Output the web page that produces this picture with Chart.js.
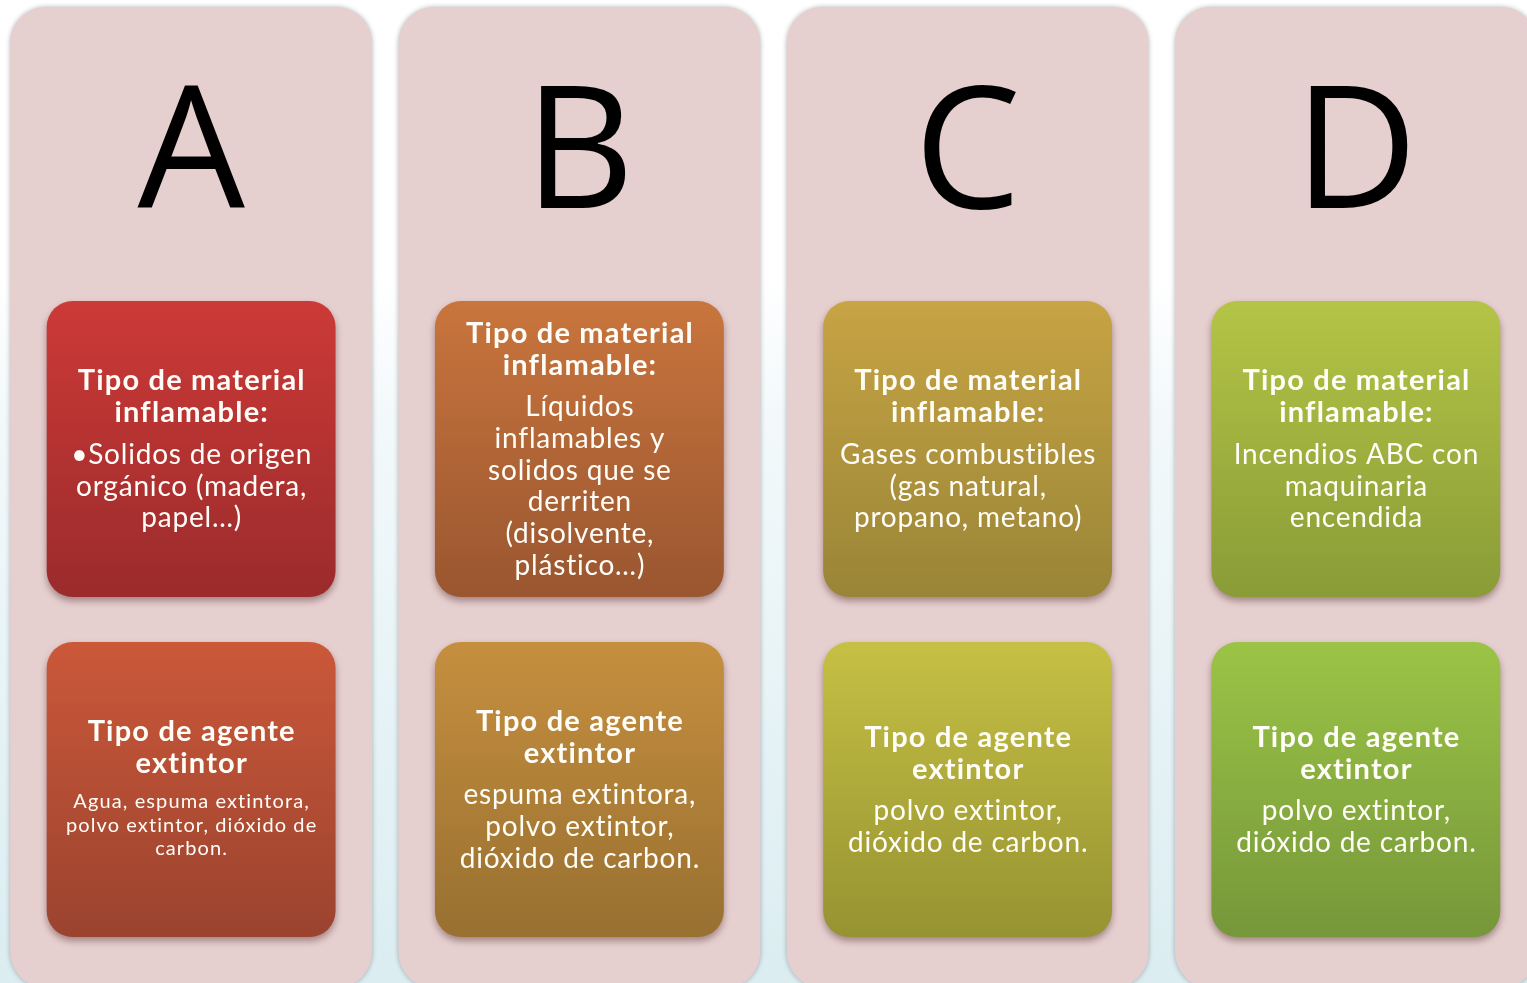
<!DOCTYPE html>
<html lang="es">
<head>
<meta charset="utf-8">
<title>Clases de fuego</title>
<script src="https://cdn.jsdelivr.net/npm/chart.js@4.4.1/dist/chart.umd.min.js"></script>
<style>
  html, body {
    margin: 0;
    width: 1527px;
    height: 983px;
    overflow: hidden;
    background: linear-gradient(to bottom, #ffffff 0%, #ffffff 28%, #f3f9fb 42%, #dbedf1 100%);
  }
  #marco {
    position: absolute;
    left: -3px;
    top: 0;
    width: 1553px;
    height: 983px;
  }
</style>
</head>
<body>
<div id="marco"><canvas id="grafico"></canvas></div>
<script>
// Datos del diagrama
const clases = ['A', 'B', 'C', 'D'];

// extensión vertical de cada columna y de cada caja (de arriba hacia abajo)
const columnaRango = [[7, 988], [7, 988], [7, 988], [7, 988]];
const materialRango = [[301, 597], [301, 597], [301, 597], [301, 597]];
const agenteRango = [[642, 937], [642, 937], [642, 937], [642, 937]];

const tituloMaterial = ['Tipo de material', 'inflamable:'];
const tituloAgente = ['Tipo de agente', 'extintor'];

const textoMaterial = [
    ['\u2022Solidos de origen', 'orgánico (madera,', 'papel…)'],
    ['Líquidos', 'inflamables y', 'solidos que se', 'derriten', '(disolvente,', 'plástico…)'],
    ['Gases combustibles', '(gas natural,', 'propano, metano)'],
    ['Incendios ABC con', 'maquinaria', 'encendida']
];
const textoAgente = [
    ['Agua, espuma extintora,', 'polvo extintor, dióxido de', 'carbon.'],
    ['espuma extintora,', 'polvo extintor,', 'dióxido de carbon.'],
    ['polvo extintor,', 'dióxido de carbon.'],
    ['polvo extintor,', 'dióxido de carbon.']
];

// colores (arriba, abajo) de cada caja
const coloresMaterial = [
    ['#cc3a37', '#9b2b2c'],
    ['#c9753d', '#9a5630'],
    ['#c7a444', '#998537'],
    ['#b4c446', '#899c37']
];
const coloresAgente = [
    ['#cb5839', '#9b432f'],
    ['#c68f3f', '#987030'],
    ['#c6c044', '#969332'],
    ['#9bc446', '#76973a']
];

// Degradado vertical para cada caja
function degradado(colores) {
    return function(ctx) {
        if (ctx.type !== 'data') return colores[0][0];
        let par = colores[ctx.dataIndex];
        let chart = ctx.chart;
        if (!chart.chartArea || !ctx.raw) return par[0];
        let y = chart.scales.y;
        let g = chart.ctx.createLinearGradient(0, y.getPixelForValue(ctx.raw[0]), 0, y.getPixelForValue(ctx.raw[1]));
        g.addColorStop(0, par[0]);
        g.addColorStop(1, par[1]);
        return g;
    };
}

// Sombras de columnas y cajas
const sombras = {
    id: 'sombras',
    beforeDatasetDraw(chart, args) {
        let c = chart.ctx;
        c.save();
        if (args.meta.label === 'columna') {
            c.shadowColor = 'rgba(0, 0, 0, 0.30)';
            c.shadowBlur = 5;
            c.shadowOffsetX = 0;
            c.shadowOffsetY = 0;
        } else {
            c.shadowColor = 'rgba(60, 20, 20, 0.40)';
            c.shadowBlur = 7;
            c.shadowOffsetX = 0;
            c.shadowOffsetY = 4;
        }
    },
    afterDatasetDraw(chart) {
        chart.ctx.restore();
    }
};

// Letras y textos de las cajas
function bloque(c, x, yMedio, titulo, cuerpo, pequeno) {
    let altoTitulo = 32;
    let altoCuerpo = pequeno ? 23.5 : 31.7;
    let salto = pequeno ? 38 : 42;
    let span = altoTitulo * (titulo.length - 1) + salto + altoCuerpo * (cuerpo.length - 1);
    let y = yMedio - span / 2;
    c.font = 'bold 29px Lato';
    c.letterSpacing = '1.2px';
    titulo.forEach((linea, i) => {
        c.fillText(linea, x + 0.6, y + i * altoTitulo + 10);
    });
    y += altoTitulo * (titulo.length - 1) + salto;
    c.font = pequeno ? '20px Lato' : '28px Lato';
    c.letterSpacing = pequeno ? '1.1px' : '0.8px';
    cuerpo.forEach((linea, i) => {
        c.fillText(linea, x + 0.5, y + i * altoCuerpo + (pequeno ? 7 : 9.5));
    });
    c.letterSpacing = '0px';
}

const textos = {
    id: 'textos',
    afterDatasetsDraw(chart) {
        let c = chart.ctx;
        let xs = chart.scales.x;
        let ys = chart.scales.y;
        c.save();
        c.textAlign = 'center';
        c.textBaseline = 'alphabetic';
        clases.forEach((letra, i) => {
            let x = xs.getPixelForValue(i);
            c.fillStyle = '#000000';
            c.font = '170px "Open Sans"';
            c.fillText(letra, x, ys.getPixelForValue(208));

            c.fillStyle = '#fffdf8';
            let m = materialRango[i];
            bloque(c, x, ys.getPixelForValue((m[0] + m[1]) / 2), tituloMaterial, textoMaterial[i], false);
            let a = agenteRango[i];
            bloque(c, x, ys.getPixelForValue((a[0] + a[1]) / 2), tituloAgente, textoAgente[i], i === 0);
        });
        c.restore();
    }
};

let ctx = document.getElementById('grafico').getContext('2d');
let diagrama = new Chart(ctx, {
    type: 'bar',
    data: {
        labels: clases,
        datasets: [
            {
                label: 'material',
                data: materialRango,
                backgroundColor: degradado(coloresMaterial),
                borderRadius: 26,
                borderSkipped: false,
                borderWidth: 0,
                grouped: false,
                barPercentage: 0.744,
                categoryPercentage: 1,
                order: 1
            },
            {
                label: 'agente',
                data: agenteRango,
                backgroundColor: degradado(coloresAgente),
                borderRadius: 26,
                borderSkipped: false,
                borderWidth: 0,
                grouped: false,
                barPercentage: 0.744,
                categoryPercentage: 1,
                order: 2
            },
            {
                label: 'columna',
                data: columnaRango,
                backgroundColor: '#e6cfcf',
                borderRadius: 36,
                borderSkipped: false,
                borderWidth: 0,
                grouped: false,
                barPercentage: 0.932,
                categoryPercentage: 1,
                order: 3
            }
        ]
    },
    options: {
        responsive: true,
        maintainAspectRatio: false,
        animation: false,
        events: [],
        layout: { padding: 0 },
        plugins: {
            legend: { display: false },
            tooltip: { enabled: false }
        },
        scales: {
            x: { display: false },
            y: { display: false, reverse: true, min: 0, max: 983 }
        }
    },
    plugins: [sombras, textos]
});
</script>
</body>
</html>
